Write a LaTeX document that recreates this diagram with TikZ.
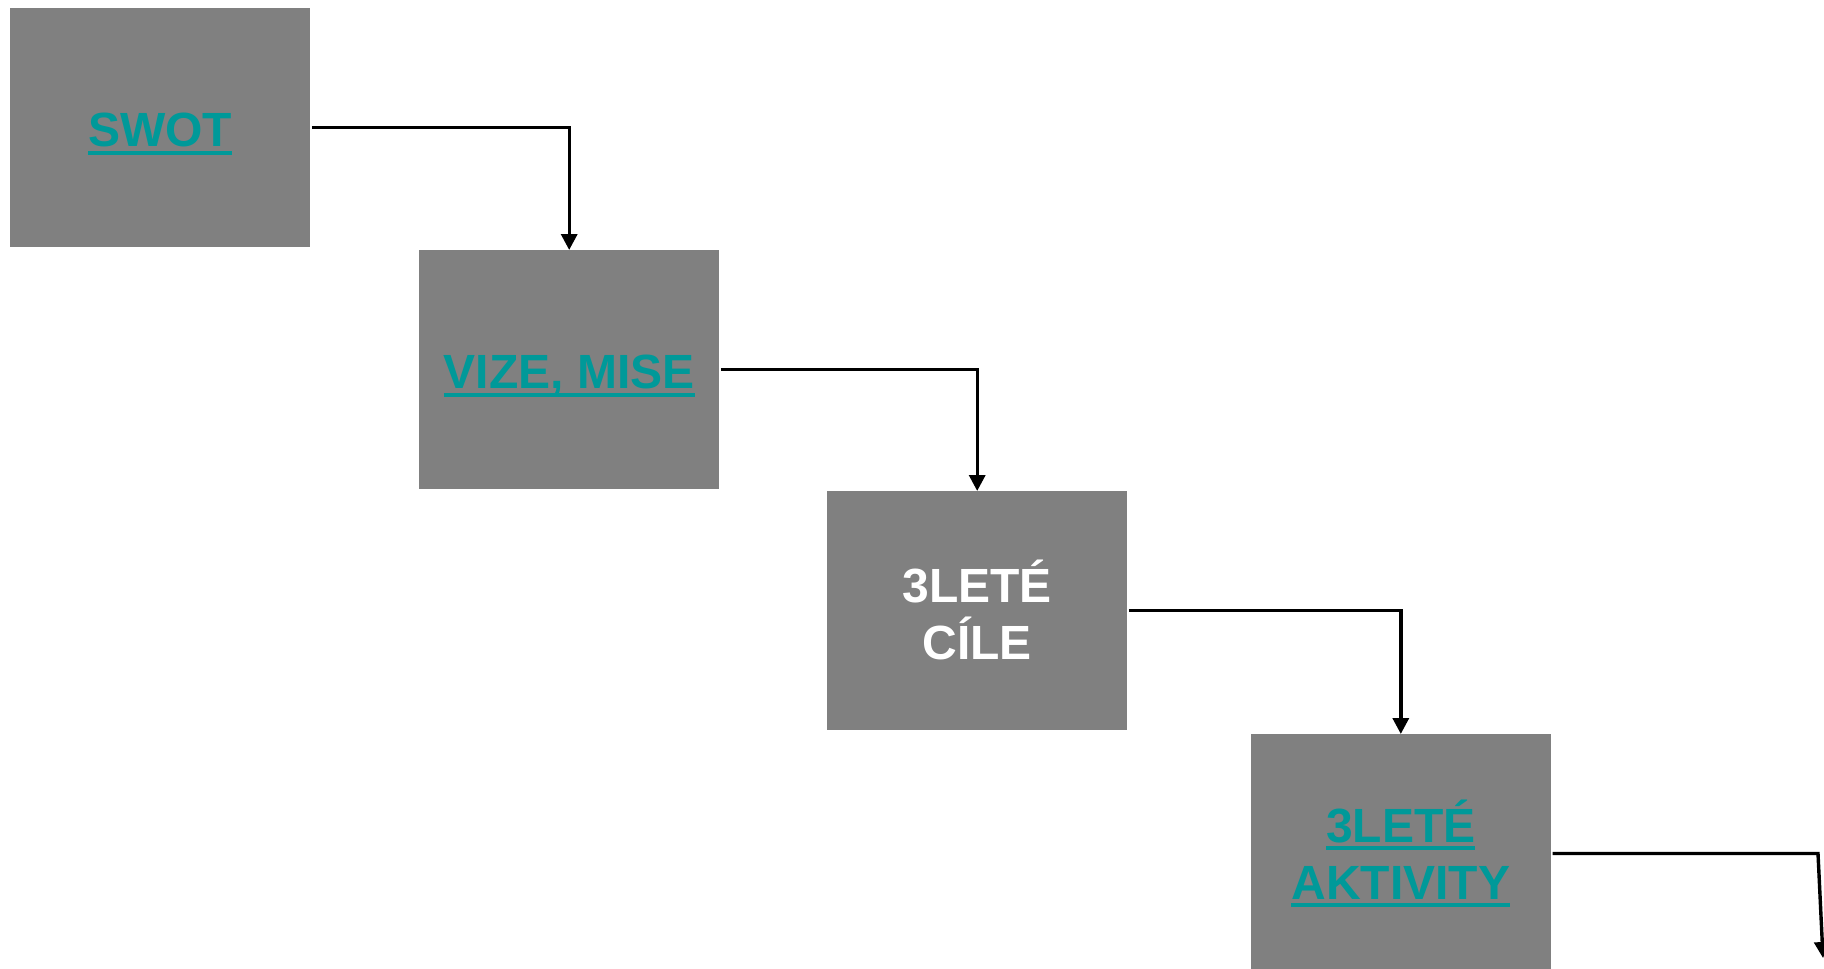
\documentclass[tikz,border=0pt]{standalone}
\usepackage{fontspec}
\setmainfont{Liberation Sans}
\usetikzlibrary{arrows.meta}
\definecolor{boxgray}{HTML}{808080}
\definecolor{linkteal}{HTML}{009999}
\newcommand\myul[1]{\setbox0\hbox{#1}\rlap{\rule[-8pt]{\wd0}{4pt}}\box0}
\begin{document}
\begin{tikzpicture}[x=1pt,y=-1pt,
  box/.style={fill=boxgray, minimum width=300pt, minimum height=238.5pt,
    inner sep=0pt, anchor=north west, align=center,
    font=\bfseries\fontsize{48}{57}\selectfont},
  oneline/.style={text height=45pt, text depth=6pt},
  conn/.style={line width=3.4pt, -{Triangle[width=16pt,length=16pt]}}]
\useasboundingbox (0,0) rectangle (1824,969);
\node[box, oneline, text=linkteal] (swot) at (10,8) {\myul{SWOT}};
\node[box, oneline, text=linkteal] (vize) at (419,250) {\myul{VIZE, MISE}};
\node[box, text=white] (cile) at (827,491) {3LETÉ\\CÍLE};
\node[box, text=linkteal] (akt) at (1250.6,734) {\myul{3LETÉ}\\\myul{AKTIVITY}};
\coordinate (tip) at (1823,958);
\coordinate (bend) at ([xshift=-5pt]tip |- akt.east);
\draw[conn] ([xshift=1.5pt]swot.east) -| (vize.north);
\draw[conn] ([xshift=1.5pt]vize.east) -| (cile.north);
\draw[conn] ([xshift=1.5pt]cile.east) -| (akt.north);
\draw[conn] ([xshift=1.5pt]akt.east) -- (bend) -- (tip);
\end{tikzpicture}
\end{document}
